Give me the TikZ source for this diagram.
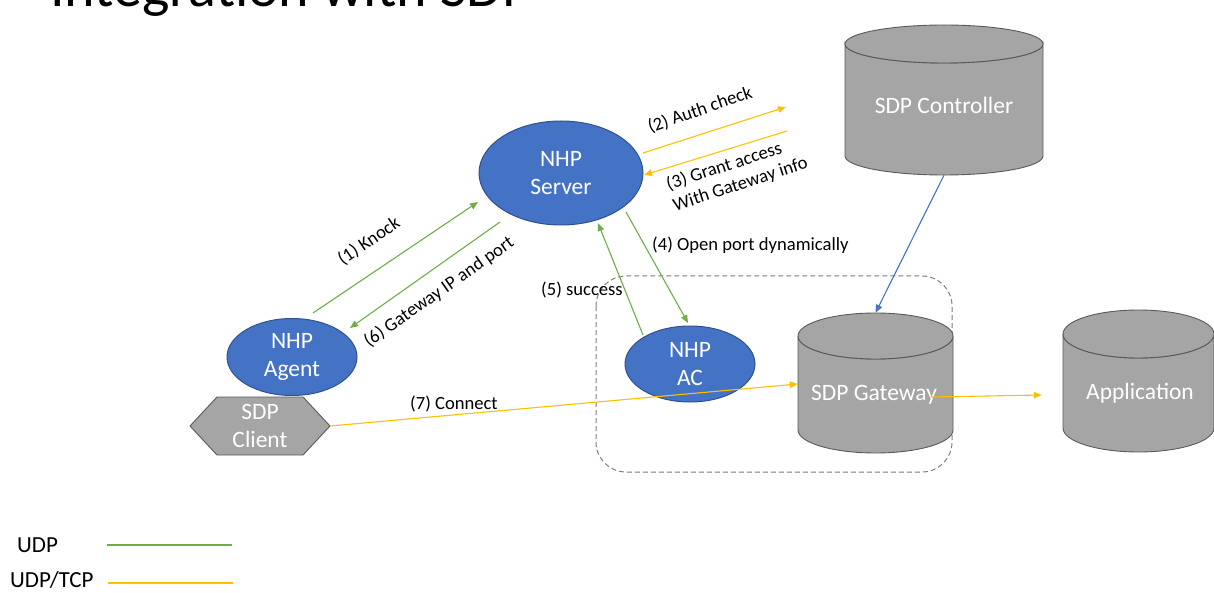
\documentclass[tikz,border=0pt]{standalone}
\usepackage{fontspec}
\setmainfont{Carlito}
\usetikzlibrary{shapes.geometric,arrows.meta,calc}

\definecolor{nhpblue}{HTML}{4472C4}
\definecolor{nhpedge}{HTML}{2F528F}
\definecolor{dbgray}{HTML}{A5A5A5}
\definecolor{dbedge}{HTML}{5A5A5A}
\definecolor{udpgreen}{HTML}{70AD47}
\definecolor{tcpyellow}{HTML}{FFC000}
\definecolor{ctrlblue}{HTML}{4472C4}
\definecolor{boxgray}{HTML}{7F7F7F}

% cylinder outline: centre x, top-ellipse y, bottom-ellipse y, x radius, y radius
\newcommand\dbdrum[5]{%
  \filldraw[drum] (#1-#4,#2) -- (#1-#4,#3)
    arc[start angle=180,end angle=0,x radius=#4,y radius=#5]
    -- (#1+#4,#2)
    arc[start angle=0,end angle=180,x radius=#4,y radius=#5] -- cycle;
  \filldraw[drum] (#1,#2) ellipse[x radius=#4,y radius=#5];}

\tikzset{
  drum/.style={fill=dbgray,draw=dbedge,line width=0.9pt},
  drumbox/.style={rectangle,inner sep=0pt},
  drumtext/.style={text=white,font=\fontsize{23.5}{28}\selectfont},
  nhp/.style={ellipse,fill=nhpblue,draw=nhpedge,line width=1pt,inner sep=0pt,
    text=white,align=center,font=\fontsize{23.5}{28}\selectfont},
  clientbox/.style={rectangle,inner sep=0pt,text=white,align=center,
    font=\fontsize{23.5}{28}\selectfont},
  udp/.style={draw=udpgreen,line width=1.1pt,-{Triangle[length=8pt,width=6.5pt]}},
  tcp/.style={draw=tcpyellow,line width=1.1pt,-{Triangle[length=8pt,width=6.5pt]}},
  ctl/.style={draw=ctrlblue,line width=1.1pt,-{Triangle[length=8pt,width=6.5pt]}},
  steplabel/.style={text=black,inner sep=0pt,font=\fontsize{18.6}{22}\selectfont},
  legendtext/.style={text=black,inner sep=0pt,anchor=west,font=\fontsize{23}{28}\selectfont},
  keyline/.style={line width=1.2pt},
  zone/.style={draw=boxgray,line width=1pt,dash pattern=on 5pt off 3pt,rounded corners=30pt}
}

\begin{document}
\begin{tikzpicture}[x=1pt,y=-1pt]
\useasboundingbox (0,0) rectangle (1214,593);
\clip (0,0) rectangle (1214,593);
\fill[white] (0,0) rectangle (1214,593);

% heading, partly above the top edge
\node[anchor=base west,inner sep=0pt,text=black,font=\fontsize{58}{62}\selectfont]
  (title) at (50,7) {Integration with SDP};

% gateway zone
\draw[zone] (596,276) rectangle (952,472);

% databases
\dbdrum{944}{44}{156}{99}{19}
\node[drumbox,minimum width=198pt,minimum height=150pt] (ctrl) at (944,100) {};
\node[drumtext] (ctrltext) at (944,105) {SDP Controller};

\dbdrum{875.5}{336}{430}{77.5}{23}
\node[drumbox,minimum width=155pt,minimum height=140pt] (gw) at (875.5,383) {};
\node[drumtext] (gwtext) at (874,395) {SDP Gateway};

\dbdrum{1138.5}{334}{428}{75.5}{24}
\node[drumbox,minimum width=151pt,minimum height=142pt] (app) at (1138.5,381) {};
\node[drumtext] (apptext) at (1140,393) {Application};

% NHP components
\node[nhp,minimum width=164pt,minimum height=104pt] (server) at (561,173) {NHP\\Server};
\node[nhp,minimum width=130pt,minimum height=77pt] (agent) at (292,357) {NHP\\Agent};
\node[nhp,minimum width=130pt,minimum height=76pt] (ac) at (690,364) {NHP\\AC};

% SDP client hexagon
\filldraw[drum] (190,426) -- (217,397) -- (303,397) -- (330,426) -- (303,455) -- (217,455) -- cycle;
\node[clientbox,minimum width=140pt,minimum height=58pt] (client) at (260,426) {SDP\\Client};

% free ends towards the controller
\coordinate (authend) at (786,107);
\coordinate (grantstart) at (787,131);

% message flow
\draw[udp] ($(agent)+(21,-44)$) -- ($(server)+(-83,29)$);
\draw[udp] ($(server)+(-61,49)$) -- ($(agent)+(58,-29)$);
\draw[tcp] ($(server)+(82,-20)$) -- (authend);
\draw[tcp] (grantstart) -- ($(server)+(83,2)$);
\draw[udp] ($(server)+(65,39)$) -- ($(ac)+(-2,-41)$);
\draw[udp] ($(ac)+(-47,-29)$) -- ($(server)+(37,50)$);
\draw[tcp] (client.east) -- ($(gw.west)+(0,1)$);
\draw[tcp] ($(gw)+(55,14)$) -- ($(app.west)+(-21,14)$);
\draw[ctl] (ctrl.south) -- (gw.north);

% step labels
\node[steplabel,rotate=34] (l1) at (369,241) {(1) Knock};
\node[steplabel,rotate=19] (l2) at (700,110) {(2) Auth check};
\node[steplabel,rotate=18,align=left] (l3) at (737,174) {(3) Grant access\\With Gateway info};
\node[steplabel,anchor=west] (l4) at (652,245) {(4) Open port dynamically};
\node[steplabel,anchor=west] (l5) at (541,290) {(5) success};
\node[steplabel,rotate=35] (l6) at (439,292) {(6) Gateway IP and port};
\node[steplabel,anchor=west] (l7) at (410,404) {(7) Connect};

% legend
\node[legendtext] (udpkey) at (17,545) {UDP};
\node[legendtext] (tcpkey) at (10,580) {UDP/TCP};
\coordinate (udpa) at (107,545);
\coordinate (udpb) at (232,545);
\coordinate (tcpa) at (108,583);
\coordinate (tcpb) at (233,583);
\draw[keyline,draw=udpgreen] (udpa) -- (udpb);
\draw[keyline,draw=tcpyellow] (tcpa) -- (tcpb);
\end{tikzpicture}
\end{document}
